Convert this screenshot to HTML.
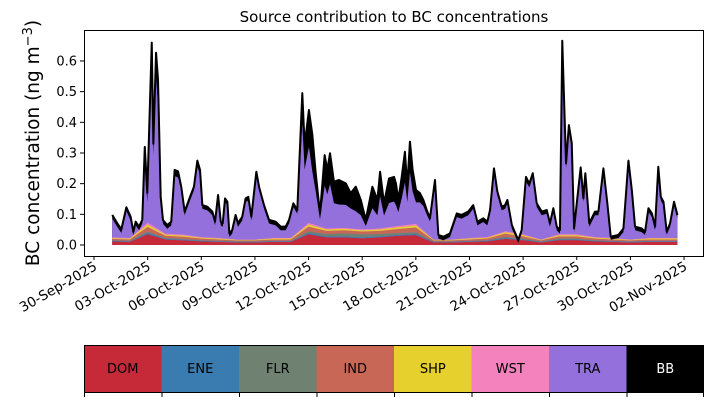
<!DOCTYPE html>
<html><head><meta charset="utf-8"><style>
body{margin:0;background:#fff;width:714px;height:402px;overflow:hidden;font-family:"DejaVu Sans",sans-serif}
</style></head><body>
<svg id="chart" width="714" height="402" xmlns="http://www.w3.org/2000/svg" font-family="DejaVu Sans, Liberation Sans, sans-serif"></svg>
<script>
const times=[1.02,1.30,1.53,1.81,2.05,2.20,2.33,2.52,2.70,2.84,2.98,3.23,3.32,3.47,3.58,3.73,3.86,4.10,4.32,4.51,4.70,4.88,5.07,5.37,5.59,5.78,5.93,6.06,6.34,6.62,6.77,6.94,7.09,7.20,7.33,7.46,7.57,7.73,7.92,8.05,8.29,8.48,8.63,8.80,9.08,9.23,9.51,9.79,10.16,10.44,10.72,10.91,11.15,11.37,11.65,11.78,12.02,12.21,12.40,12.64,12.90,13.05,13.20,13.42,13.70,14.08,14.36,14.64,14.92,15.20,15.57,15.85,16.00,16.22,16.50,16.78,16.89,17.02,17.21,17.39,17.52,17.67,17.82,18.01,18.23,18.42,18.61,18.79,19.07,19.26,19.54,19.91,20.29,20.56,20.93,21.21,21.44,21.77,22.0,22.15,22.37,22.56,22.80,22.99,23.12,23.37,23.73,23.92,24.16,24.35,24.54,24.76,25.04,25.32,25.50,25.69,25.88,26.06,26.19,26.40,26.56,26.72,26.85,27.03,27.22,27.37,27.48,27.70,28.02,28.21,28.49,28.71,28.90,29.33,29.61,29.89,30.08,30.26,30.63,30.82,31.01,31.20,31.38,31.56,31.70,31.85,32.03,32.22,32.44,32.63];
const total=[.098,.071,.051,.123,.092,.043,.076,.060,.082,.32,.17,.66,.33,.627,.54,.157,.081,.065,.076,.245,.24,.19,.109,.157,.19,.275,.245,.13,.125,.109,.076,.163,.076,.071,.152,.141,.038,.049,.098,.071,.092,.152,.157,.092,.239,.19,.13,.082,.076,.06,.06,.082,.136,.114,.495,.326,.44,.36,.234,.103,.293,.245,.299,.206,.212,.201,.169,.19,.147,.082,.19,.147,.239,.136,.217,.222,.2,.147,.222,.304,.19,.337,.245,.179,.169,.147,.114,.087,.212,.033,.027,.038,.103,.098,.109,.13,.076,.087,.076,.114,.25,.174,.125,.13,.147,.065,.016,.049,.222,.2,.234,.136,.109,.114,.071,.12,.06,.049,.666,.266,.391,.332,.054,.152,.253,.152,.234,.071,.109,.109,.25,.136,.027,.033,.054,.275,.179,.06,.054,.043,.12,.103,.06,.255,.157,.141,.043,.071,.141,.098];
const bb=[.012,.012,.012,.012,.012,.012,.012,.012,.012,.06,.03,.06,.04,.08,.08,.02,.012,.012,.012,.02,.02,.012,.012,.012,.012,.02,.015,.012,.012,.012,.012,.012,.012,.012,.012,.012,.012,.012,.012,.012,.012,.012,.012,.012,.012,.012,.012,.012,.012,.012,.012,.012,.012,.012,.1,.08,.12,.12,.06,.02,.1,.08,.1,.07,.08,.07,.05,.08,.05,.02,.07,.05,.08,.04,.08,.08,.07,.04,.07,.1,.05,.1,.07,.04,.03,.02,.015,.01,.02,.012,.012,.012,.012,.012,.012,.012,.012,.012,.012,.012,.015,.012,.012,.012,.012,.012,.01,.012,.015,.012,.012,.012,.012,.012,.012,.012,.012,.012,.03,.015,.02,.015,.012,.012,.012,.012,.012,.012,.012,.012,.012,.012,.01,.01,.012,.012,.012,.012,.012,.01,.012,.012,.012,.012,.012,.012,.01,.012,.012,.012];
const dayGrid=[1,2,3,4,5,6,7,8,9,10,11,12,13,14,15,16,17,18,19,20,21,22,23,24,25,26,27,28,29,30,31,32,33];
const dom=[.012,.01,.035,.018,.015,.012,.01,.008,.008,.01,.01,.035,.025,.025,.022,.025,.03,.032,.008,.008,.01,.012,.02,.016,.008,.016,.016,.012,.01,.008,.01,.01,.01];
const ene=[.002,.002,.004,.002,.002,.002,.002,.002,.002,.002,.002,.004,.003,.003,.003,.003,.003,.004,.002,.002,.002,.002,.003,.002,.002,.002,.002,.002,.002,.002,.002,.002,.002];
const flr=[.002,.002,.005,.003,.003,.002,.002,.002,.002,.002,.002,.006,.008,.01,.01,.008,.006,.006,.002,.002,.002,.002,.004,.003,.002,.003,.003,.002,.002,.002,.002,.002,.002];
const ind=[.004,.004,.015,.007,.007,.005,.004,.003,.003,.004,.004,.015,.01,.01,.009,.01,.013,.015,.003,.003,.004,.005,.01,.007,.003,.007,.007,.005,.004,.003,.004,.004,.004];
const shp=[.003,.003,.008,.004,.004,.003,.003,.002,.002,.003,.003,.007,.005,.005,.004,.005,.006,.007,.002,.002,.003,.003,.005,.004,.002,.004,.004,.003,.003,.002,.003,.003,.003];
const wst=[.002,.002,.006,.003,.003,.002,.002,.001,.001,.002,.002,.005,.003,.003,.003,.003,.004,.005,.001,.001,.002,.002,.003,.003,.001,.003,.003,.002,.002,.001,.002,.002,.002];
const yTicks=[0,0.1,0.2,0.3,0.4,0.5,0.6];
const xTickDays=[0,3,6,9,12,15,18,21,24,27,30,33];
const xTickLabels=["30-Sep-2025","03-Oct-2025","06-Oct-2025","09-Oct-2025","12-Oct-2025","15-Oct-2025","18-Oct-2025","21-Oct-2025","24-Oct-2025","27-Oct-2025","30-Oct-2025","02-Nov-2025"];
const legendNames=["DOM","ENE","FLR","IND","SHP","WST","TRA","BB"];
const legendColors=["#c62a39","#3a7bb0","#6f8272","#c96756","#e6d02e","#f382bd","#9370db","#000000"];

const NS="http://www.w3.org/2000/svg";
const svg=document.getElementById('chart');
const X=d=>94+d*17.88;
const Y=v=>245-v*306.7;
function mk(tag,attrs,parent){const e=document.createElementNS(NS,tag);for(const k in attrs)e.setAttribute(k,attrs[k]);(parent||svg).appendChild(e);return e;}

const defs=mk('defs',{});
const cp=mk('clipPath',{id:'under'},defs);
let dUnder='M'+X(times[0])+','+Y(0);
times.forEach((t,i)=>{dUnder+=' L'+X(t)+','+Y(total[i]-bb[i]);});
dUnder+=' L'+X(times[times.length-1])+','+Y(0)+' Z';
mk('path',{d:dUnder},cp);

let dTot='M'+X(times[0])+','+Y(0);
times.forEach((t,i)=>{dTot+=' L'+X(t)+','+Y(total[i]);});
dTot+=' L'+X(times[times.length-1])+','+Y(0)+' Z';
const bbArea=mk('path',{d:dTot,fill:'#000'});


const tra=mk('path',{d:dUnder,fill:'#9370db'});



const g=mk('g',{'clip-path':'url(#under)'});
const layers=[dom,ene,flr,ind,shp,wst];
const cum=dayGrid.map(()=>0);
layers.forEach((arr,li)=>{
  const lo=cum.slice();
  arr.forEach((v,i)=>{cum[i]+=v;});
  let d='M'+X(dayGrid[0])+','+Y(lo[0]);
  dayGrid.forEach((t,i)=>{d+=' L'+X(t)+','+Y(cum[i]);});
  for(let i=dayGrid.length-1;i>=0;i--){d+=' L'+X(dayGrid[i])+','+Y(lo[i]);}
  d+=' Z';
  const p=mk('path',{d:d,fill:legendColors[li]},g);
  
  
});

let dl='';
times.forEach((t,i)=>{dl+=(i?' L':'M')+X(t)+','+Y(total[i]);});
const line=mk('path',{d:dl,fill:'none',stroke:'#000','stroke-width':2,'stroke-linejoin':'round'});



const frame=mk('rect',{x:84.5,y:30.5,width:619,height:226,fill:'none',stroke:'#000','stroke-width':1});



yTicks.forEach(v=>{
  const y=Y(v);
  const tk=mk('line',{x1:80,x2:84,y1:y,y2:y,stroke:'#000'});
  
  
  const tx=mk('text',{x:77,y:y+4.5,'text-anchor':'end','font-size':13});
  tx.textContent=v.toFixed(1);
  
  
});
xTickDays.forEach((d,i)=>{
  const x=X(d);
  const tk=mk('line',{x1:x,x2:x,y1:256,y2:260,stroke:'#000'});
  
  
  const ax=x+4, ay=269;
  const tx=mk('text',{x:ax,y:ay,'text-anchor':'end','font-size':13.5,transform:'rotate(-30 '+ax+' '+ay+')'});
  tx.textContent=xTickLabels[i];
  
  
});

const title=mk('text',{x:394,y:22,'text-anchor':'middle','font-size':15});
title.textContent='Source contribution to BC concentrations';



const yl=mk('text',{x:39,y:143,'text-anchor':'middle','font-size':18.5,transform:'rotate(-90 39 143)'});
yl.innerHTML='BC concentration (ng m<tspan baseline-shift="super" font-size="13">−3</tspan>)';



const cw=620/8;
legendNames.forEach((n,i)=>{
  const x=84+i*cw;
  const r=mk('rect',{x:x,y:345,width:cw,height:47,fill:legendColors[i]});
  
  
  const t=mk('text',{x:x+cw/2,y:373,'text-anchor':'middle','font-size':13,fill:n==='BB'?'#fff':'#000'});
  t.textContent=n;
  
  
  const tk=mk('line',{x1:x+0.5,x2:x+0.5,y1:392,y2:397,stroke:'#000'});
  
  
});
const lt=mk('line',{x1:703.5,x2:703.5,y1:392,y2:397,stroke:'#000'});


const lb=mk('rect',{x:84.5,y:345.5,width:619,height:47,fill:'none',stroke:'#000','stroke-width':1});


</script>
</body></html>
